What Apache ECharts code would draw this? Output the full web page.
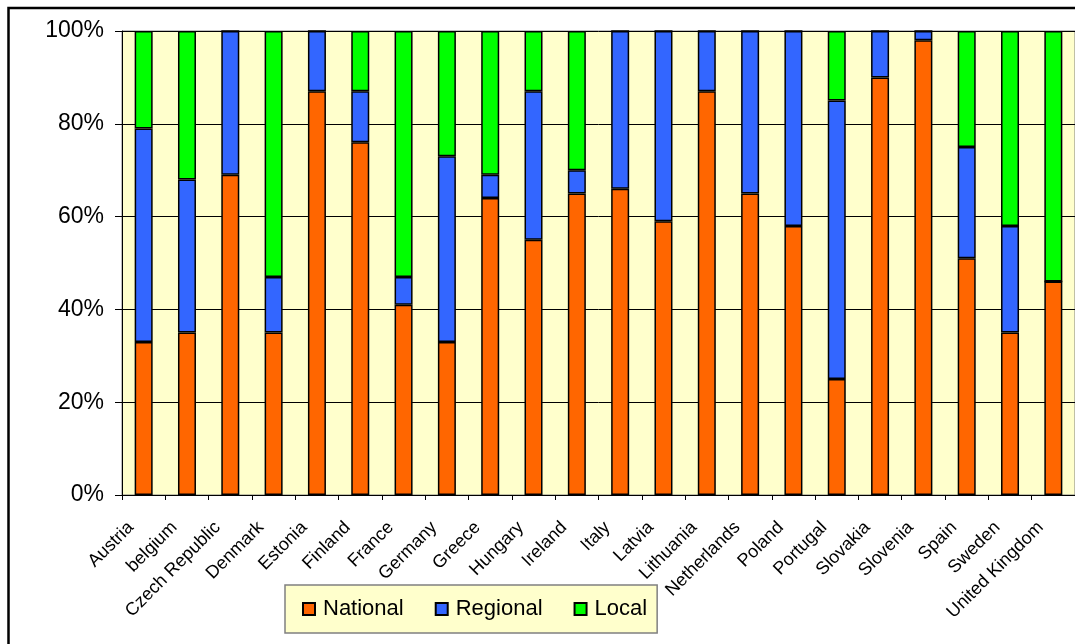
<!DOCTYPE html>
<html>
<head>
<meta charset="utf-8">
<script src="https://cdn.jsdelivr.net/npm/echarts@6/dist/echarts.min.js"></script>
<style>
html,body{margin:0;padding:0;background:#fff;}
#chart{width:1075px;height:644px;}
</style>
</head>
<body>
<div id="chart"></div>
<script>
const categories = ['Austria','belgium','Czech Republic','Denmark','Estonia','Finland','France','Germany','Greece','Hungary','Ireland','Italy','Latvia','Lithuania','Netherlands','Poland','Portugal','Slovakia','Slovenia','Spain','Sweden','United Kingdom'];
const national = [33,35,69,35,87,76,41,33,64,55,65,66,59,87,65,58,25,90,98,51,35,46];
const regional = [46,33,31,12,13,11,6,40,5,32,5,34,41,13,35,42,60,10,2,24,23,0];
const local    = [21,32,0,53,0,13,53,27,31,13,30,0,0,0,0,0,15,0,0,25,42,54];
const seriesNames = ['National','Regional','Local'];
const colors = ['#FF6600','#3366FF','#00FF00'];
const yTicks = [0,20,40,60,80,100];

const font = 'Liberation Sans, Arial, sans-serif';
const chart = echarts.init(document.getElementById('chart'));
const mk = (name, data, color) => ({
  name, type:'bar', stack:'total', data, barWidth:18,
  itemStyle:{color, borderColor:'#000', borderWidth:1.5},
  emphasis:{disabled:true}
});
chart.setOption({
  animation:false,
  textStyle:{fontFamily:font},
  graphic:[{type:'rect', shape:{x:8.5,y:8,width:1200,height:800}, style:{fill:'none', stroke:'#000', lineWidth:2.5}, z:-1, silent:true}],
  grid:{left:122, top:31, width:955, height:464, show:true, backgroundColor:'#FFFFCC', borderColor:'#808080', borderWidth:1},
  legend:{
    data:seriesNames, left:285, top:585, width:373,
    padding:[13,10,13,17], itemGap:31, itemWidth:12, itemHeight:12, icon:'rect',
    backgroundColor:'#FFFFCC', borderColor:'#808080', borderWidth:1.5,
    textStyle:{fontSize:22, color:'#000', fontFamily:font, padding:[0,0,0,3]}
  },
  xAxis:{
    type:'category', data:categories,
    axisLine:{lineStyle:{color:'#000', width:1}},
    axisTick:{show:true, alignWithLabel:false, length:5, lineStyle:{color:'#000'}},
    axisLabel:{rotate:45, fontSize:18, color:'#000', margin:17, interval:0, fontFamily:font, padding:[0,18,0,0]}
  },
  yAxis:{
    type:'value', min:yTicks[0], max:yTicks[yTicks.length-1], interval:20,
    axisLine:{show:true, lineStyle:{color:'#000', width:1}},
    axisTick:{show:true, length:7, lineStyle:{color:'#000'}},
    axisLabel:{formatter:'{value}%', fontSize:23, color:'#000', margin:18, fontFamily:font},
    splitLine:{show:true, lineStyle:{color:'#000', width:1}}
  },
  series:[mk(seriesNames[0], national, colors[0]), mk(seriesNames[1], regional, colors[1]), mk(seriesNames[2], local, colors[2])]
});
</script>
</body>
</html>
